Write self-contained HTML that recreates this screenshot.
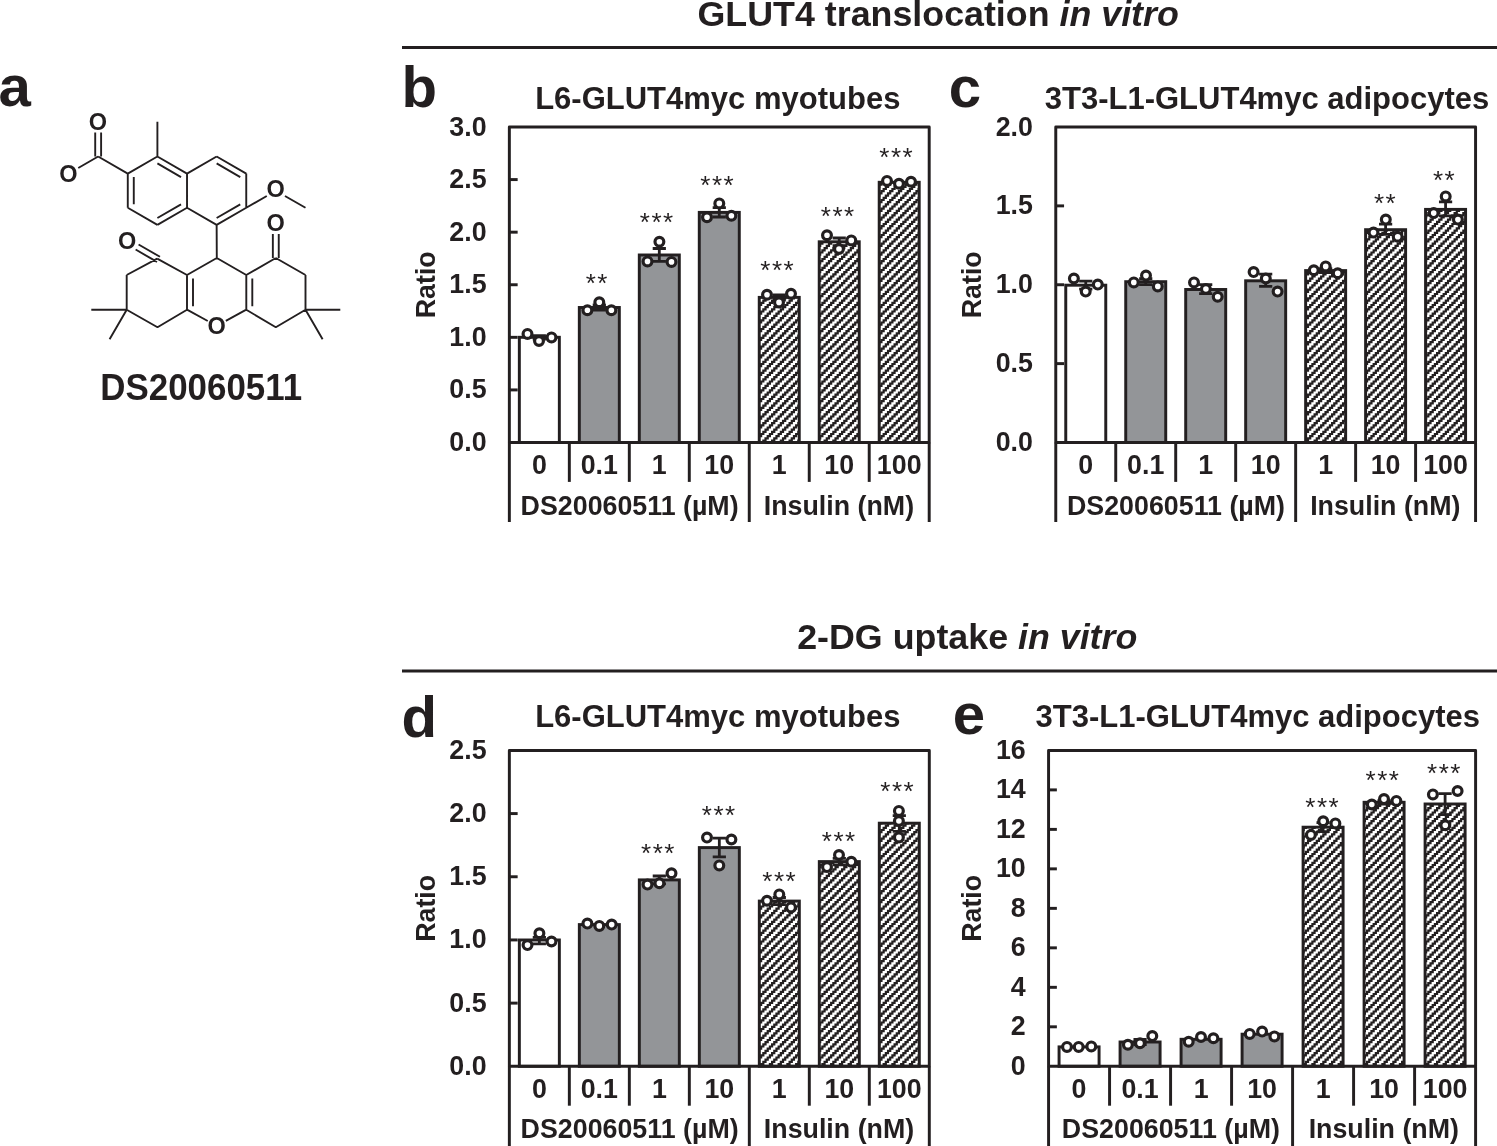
<!DOCTYPE html>
<html><head><meta charset="utf-8"><title>Figure</title>
<style>html,body{margin:0;padding:0;background:#fff}svg{display:block;will-change:transform}text{font-family:"Liberation Sans",sans-serif;fill:#231f20}.b{font-weight:bold}.i{font-style:italic}.ln{stroke:#231f20;fill:none}</style></head><body>
<svg width="1497" height="1146" viewBox="0 0 1497 1146">
<defs><pattern id="hatch" width="35" height="35" patternUnits="userSpaceOnUse" patternTransform="translate(1 2)"><rect x="0" y="0" width="35" height="35" fill="#fff"/><path fill="#231f20" d="M0 0L0 2.19L-2.19 2.19L-2.19 4.38L-4.38 4.38L-4.38 6.56L-6.56 6.56L-6.56 8.75L-8.75 8.75L-8.75 10.94L-10.94 10.94L-10.94 13.12L-13.12 13.12L-13.12 15.31L-15.31 15.31L-15.31 17.5L-17.5 17.5L-17.5 19.69L-19.69 19.69L-19.69 21.88L-21.88 21.88L-21.88 24.06L-24.06 24.06L-24.06 26.25L-26.25 26.25L-26.25 28.44L-28.44 28.44L-28.44 30.62L-30.62 30.62L-30.62 32.81L-32.81 32.81L-32.81 35L-28.44 35L-28.44 32.81L-26.25 32.81L-26.25 30.62L-24.06 30.62L-24.06 28.44L-21.88 28.44L-21.88 26.25L-19.69 26.25L-19.69 24.06L-17.5 24.06L-17.5 21.88L-15.31 21.88L-15.31 19.69L-13.12 19.69L-13.12 17.5L-10.94 17.5L-10.94 15.31L-8.75 15.31L-8.75 13.12L-6.56 13.12L-6.56 10.94L-4.38 10.94L-4.38 8.75L-2.19 8.75L-2.19 6.56L0 6.56L0 4.38L2.19 4.38L2.19 2.19L4.38 2.19L4.38 0ZM8.75 0L8.75 2.19L6.56 2.19L6.56 4.38L4.38 4.38L4.38 6.56L2.19 6.56L2.19 8.75L0 8.75L0 10.94L-2.19 10.94L-2.19 13.12L-4.38 13.12L-4.38 15.31L-6.56 15.31L-6.56 17.5L-8.75 17.5L-8.75 19.69L-10.94 19.69L-10.94 21.88L-13.12 21.88L-13.12 24.06L-15.31 24.06L-15.31 26.25L-17.5 26.25L-17.5 28.44L-19.69 28.44L-19.69 30.62L-21.88 30.62L-21.88 32.81L-24.06 32.81L-24.06 35L-19.69 35L-19.69 32.81L-17.5 32.81L-17.5 30.62L-15.31 30.62L-15.31 28.44L-13.12 28.44L-13.12 26.25L-10.94 26.25L-10.94 24.06L-8.75 24.06L-8.75 21.88L-6.56 21.88L-6.56 19.69L-4.38 19.69L-4.38 17.5L-2.19 17.5L-2.19 15.31L0 15.31L0 13.12L2.19 13.12L2.19 10.94L4.38 10.94L4.38 8.75L6.56 8.75L6.56 6.56L8.75 6.56L8.75 4.38L10.94 4.38L10.94 2.19L13.12 2.19L13.12 0ZM17.5 0L17.5 2.19L15.31 2.19L15.31 4.38L13.12 4.38L13.12 6.56L10.94 6.56L10.94 8.75L8.75 8.75L8.75 10.94L6.56 10.94L6.56 13.12L4.38 13.12L4.38 15.31L2.19 15.31L2.19 17.5L0 17.5L0 19.69L-2.19 19.69L-2.19 21.88L-4.38 21.88L-4.38 24.06L-6.56 24.06L-6.56 26.25L-8.75 26.25L-8.75 28.44L-10.94 28.44L-10.94 30.62L-13.12 30.62L-13.12 32.81L-15.31 32.81L-15.31 35L-10.94 35L-10.94 32.81L-8.75 32.81L-8.75 30.62L-6.56 30.62L-6.56 28.44L-4.38 28.44L-4.38 26.25L-2.19 26.25L-2.19 24.06L0 24.06L0 21.88L2.19 21.88L2.19 19.69L4.38 19.69L4.38 17.5L6.56 17.5L6.56 15.31L8.75 15.31L8.75 13.12L10.94 13.12L10.94 10.94L13.12 10.94L13.12 8.75L15.31 8.75L15.31 6.56L17.5 6.56L17.5 4.38L19.69 4.38L19.69 2.19L21.88 2.19L21.88 0ZM26.25 0L26.25 2.19L24.06 2.19L24.06 4.38L21.88 4.38L21.88 6.56L19.69 6.56L19.69 8.75L17.5 8.75L17.5 10.94L15.31 10.94L15.31 13.12L13.12 13.12L13.12 15.31L10.94 15.31L10.94 17.5L8.75 17.5L8.75 19.69L6.56 19.69L6.56 21.88L4.38 21.88L4.38 24.06L2.19 24.06L2.19 26.25L0 26.25L0 28.44L-2.19 28.44L-2.19 30.62L-4.38 30.62L-4.38 32.81L-6.56 32.81L-6.56 35L-2.19 35L-2.19 32.81L0 32.81L0 30.62L2.19 30.62L2.19 28.44L4.38 28.44L4.38 26.25L6.56 26.25L6.56 24.06L8.75 24.06L8.75 21.88L10.94 21.88L10.94 19.69L13.12 19.69L13.12 17.5L15.31 17.5L15.31 15.31L17.5 15.31L17.5 13.12L19.69 13.12L19.69 10.94L21.88 10.94L21.88 8.75L24.06 8.75L24.06 6.56L26.25 6.56L26.25 4.38L28.44 4.38L28.44 2.19L30.62 2.19L30.62 0ZM35 0L35 2.19L32.81 2.19L32.81 4.38L30.62 4.38L30.62 6.56L28.44 6.56L28.44 8.75L26.25 8.75L26.25 10.94L24.06 10.94L24.06 13.12L21.88 13.12L21.88 15.31L19.69 15.31L19.69 17.5L17.5 17.5L17.5 19.69L15.31 19.69L15.31 21.88L13.12 21.88L13.12 24.06L10.94 24.06L10.94 26.25L8.75 26.25L8.75 28.44L6.56 28.44L6.56 30.62L4.38 30.62L4.38 32.81L2.19 32.81L2.19 35L6.56 35L6.56 32.81L8.75 32.81L8.75 30.62L10.94 30.62L10.94 28.44L13.12 28.44L13.12 26.25L15.31 26.25L15.31 24.06L17.5 24.06L17.5 21.88L19.69 21.88L19.69 19.69L21.88 19.69L21.88 17.5L24.06 17.5L24.06 15.31L26.25 15.31L26.25 13.12L28.44 13.12L28.44 10.94L30.62 10.94L30.62 8.75L32.81 8.75L32.81 6.56L35 6.56L35 4.38L37.19 4.38L37.19 2.19L39.38 2.19L39.38 0ZM43.75 0L43.75 2.19L41.56 2.19L41.56 4.38L39.38 4.38L39.38 6.56L37.19 6.56L37.19 8.75L35 8.75L35 10.94L32.81 10.94L32.81 13.12L30.62 13.12L30.62 15.31L28.44 15.31L28.44 17.5L26.25 17.5L26.25 19.69L24.06 19.69L24.06 21.88L21.88 21.88L21.88 24.06L19.69 24.06L19.69 26.25L17.5 26.25L17.5 28.44L15.31 28.44L15.31 30.62L13.12 30.62L13.12 32.81L10.94 32.81L10.94 35L15.31 35L15.31 32.81L17.5 32.81L17.5 30.62L19.69 30.62L19.69 28.44L21.88 28.44L21.88 26.25L24.06 26.25L24.06 24.06L26.25 24.06L26.25 21.88L28.44 21.88L28.44 19.69L30.62 19.69L30.62 17.5L32.81 17.5L32.81 15.31L35 15.31L35 13.12L37.19 13.12L37.19 10.94L39.38 10.94L39.38 8.75L41.56 8.75L41.56 6.56L43.75 6.56L43.75 4.38L45.94 4.38L45.94 2.19L48.12 2.19L48.12 0ZM52.5 0L52.5 2.19L50.31 2.19L50.31 4.38L48.12 4.38L48.12 6.56L45.94 6.56L45.94 8.75L43.75 8.75L43.75 10.94L41.56 10.94L41.56 13.12L39.38 13.12L39.38 15.31L37.19 15.31L37.19 17.5L35 17.5L35 19.69L32.81 19.69L32.81 21.88L30.62 21.88L30.62 24.06L28.44 24.06L28.44 26.25L26.25 26.25L26.25 28.44L24.06 28.44L24.06 30.62L21.88 30.62L21.88 32.81L19.69 32.81L19.69 35L24.06 35L24.06 32.81L26.25 32.81L26.25 30.62L28.44 30.62L28.44 28.44L30.62 28.44L30.62 26.25L32.81 26.25L32.81 24.06L35 24.06L35 21.88L37.19 21.88L37.19 19.69L39.38 19.69L39.38 17.5L41.56 17.5L41.56 15.31L43.75 15.31L43.75 13.12L45.94 13.12L45.94 10.94L48.12 10.94L48.12 8.75L50.31 8.75L50.31 6.56L52.5 6.56L52.5 4.38L54.69 4.38L54.69 2.19L56.88 2.19L56.88 0ZM61.25 0L61.25 2.19L59.06 2.19L59.06 4.38L56.88 4.38L56.88 6.56L54.69 6.56L54.69 8.75L52.5 8.75L52.5 10.94L50.31 10.94L50.31 13.12L48.12 13.12L48.12 15.31L45.94 15.31L45.94 17.5L43.75 17.5L43.75 19.69L41.56 19.69L41.56 21.88L39.38 21.88L39.38 24.06L37.19 24.06L37.19 26.25L35 26.25L35 28.44L32.81 28.44L32.81 30.62L30.62 30.62L30.62 32.81L28.44 32.81L28.44 35L32.81 35L32.81 32.81L35 32.81L35 30.62L37.19 30.62L37.19 28.44L39.38 28.44L39.38 26.25L41.56 26.25L41.56 24.06L43.75 24.06L43.75 21.88L45.94 21.88L45.94 19.69L48.12 19.69L48.12 17.5L50.31 17.5L50.31 15.31L52.5 15.31L52.5 13.12L54.69 13.12L54.69 10.94L56.88 10.94L56.88 8.75L59.06 8.75L59.06 6.56L61.25 6.56L61.25 4.38L63.44 4.38L63.44 2.19L65.62 2.19L65.62 0Z"/></pattern></defs>
<rect x="0" y="0" width="1497" height="1146" fill="#fff"/>
<text class="b" x="697.5" y="26.1" font-size="35.8">GLUT4 translocation <tspan class="i">in vitro</tspan></text>
<line class="ln" x1="402" x2="1497" y1="47.6" y2="47.6" stroke-width="3"/>
<text class="b" x="797.2" y="649.3" font-size="35.8">2-DG uptake <tspan class="i">in vitro</tspan></text>
<line class="ln" x1="402" x2="1497" y1="671.1" y2="671.1" stroke-width="3"/>
<text class="b" x="-1.6" y="106.4" font-size="58.2">a</text>
<text class="b" x="401.4" y="106.5" font-size="58.2">b</text>
<text class="b" x="948.8" y="106.5" font-size="58.2">c</text>
<text class="b" x="401.6" y="736.7" font-size="58.2">d</text>
<text class="b" x="952.8" y="734.1" font-size="58.2">e</text>
<path class="ln" stroke-width="1.9" stroke-linecap="butt" d="M157.4 156.5L187.02 173.6M187.02 173.6L187.02 207.8M187.02 207.8L157.4 224.9M157.4 224.9L127.78 207.8M127.78 207.8L127.78 173.6M127.78 173.6L157.4 156.5M157.4 163.43L181.02 177.06M181.02 204.34L157.4 217.97M133.78 204.34L133.78 177.06M187.02 173.6L216.64 156.5M216.64 156.5L246.25 173.6M246.25 173.6L246.25 207.8M246.25 207.8L216.64 224.9M216.64 224.9L187.02 207.8M216.64 163.43L240.25 177.06M240.25 204.34L216.64 217.97M157.4 156.5L157.4 121.7M127.78 173.6L98.16 156.5M101.11 156.5L101.11 132.6M95.21 156.5L95.21 132.6M98.16 156.5L78.25 168M246.25 207.8L266.78 195.95M284.97 195.95L305.49 207.8M216.64 224.9L216.8 258M216.8 258L246.3 275M246.3 275L246.3 309.7M246.3 309.7L225.83 320.94M207.75 320.98L187 309.7M187 309.7L187 275M187 275L216.8 258M193 306.24L193 278.46M252.3 278.46L252.3 306.24M126.7 275L157.2 258.6M157.2 258.6L187 275M157.5 327.3L126.7 309.7M126.7 309.7L126.7 275M187 309.7L157.5 327.3M275.8 258L305.5 275M305.5 275L305.5 309.7M305.5 309.7L275.8 327.3M275.8 327.3L246.3 309.7M246.3 275L275.8 258M278.75 258L278.75 234.1M272.85 258L272.85 234.1M159.97 256.8L138.58 244.45M157.02 261.9L135.63 249.55M126.7 309.7L91.3 309.7M126.7 309.7L109.6 339.32M305.5 309.7L340.3 309.7M305.5 309.7L322.6 339.32"/>
<text class="b" x="97.9" y="130.3" font-size="23.5" text-anchor="middle">O</text>
<text class="b" x="68.3" y="182.2" font-size="23.5" text-anchor="middle">O</text>
<text class="b" x="275.6" y="196.6" font-size="23.5" text-anchor="middle">O</text>
<text class="b" x="216.6" y="333.7" font-size="23.5" text-anchor="middle">O</text>
<text class="b" x="275.6" y="230.9" font-size="23.5" text-anchor="middle">O</text>
<text class="b" x="127.2" y="248.7" font-size="23.5" text-anchor="middle">O</text>
<text class="b" transform="translate(201.2 399.7) scale(0.997 1.055)" font-size="35" text-anchor="middle">DS20060511</text>
<rect x="519.34" y="337.3" width="40" height="105.2" fill="#fff" stroke="#231f20" stroke-width="2.95"/>
<rect x="579.32" y="307.5" width="40" height="135" fill="#939598" stroke="#231f20" stroke-width="2.95"/>
<rect x="639.3" y="255" width="40" height="187.5" fill="#939598" stroke="#231f20" stroke-width="2.95"/>
<rect x="699.28" y="212.4" width="40" height="230.1" fill="#939598" stroke="#231f20" stroke-width="2.95"/>
<rect x="759.25" y="297.4" width="40" height="145.1" fill="url(#hatch)" stroke="#231f20" stroke-width="2.95"/>
<rect x="819.23" y="241.8" width="40" height="200.7" fill="url(#hatch)" stroke="#231f20" stroke-width="2.95"/>
<rect x="879.21" y="182.3" width="40" height="260.2" fill="url(#hatch)" stroke="#231f20" stroke-width="2.95"/>
<rect class="ln" x="509.35" y="127" width="419.85" height="315.5" stroke-width="2.95" stroke-linejoin="round"/>
<text class="b" x="486.55" y="451.05" font-size="26.8" text-anchor="end">0.0</text>
<line class="ln" x1="509.35" x2="517.65" y1="389.92" y2="389.92" stroke-width="2.95"/>
<text class="b" x="486.55" y="398.47" font-size="26.8" text-anchor="end">0.5</text>
<line class="ln" x1="509.35" x2="517.65" y1="337.33" y2="337.33" stroke-width="2.95"/>
<text class="b" x="486.55" y="345.88" font-size="26.8" text-anchor="end">1.0</text>
<line class="ln" x1="509.35" x2="517.65" y1="284.75" y2="284.75" stroke-width="2.95"/>
<text class="b" x="486.55" y="293.3" font-size="26.8" text-anchor="end">1.5</text>
<line class="ln" x1="509.35" x2="517.65" y1="232.17" y2="232.17" stroke-width="2.95"/>
<text class="b" x="486.55" y="240.72" font-size="26.8" text-anchor="end">2.0</text>
<line class="ln" x1="509.35" x2="517.65" y1="179.58" y2="179.58" stroke-width="2.95"/>
<text class="b" x="486.55" y="188.13" font-size="26.8" text-anchor="end">2.5</text>
<text class="b" x="486.55" y="135.55" font-size="26.8" text-anchor="end">3.0</text>
<path class="ln" stroke-width="2.8" d="M539.34 335.6L539.34 339.2M532.74 335.6L545.94 335.6M532.74 339.2L545.94 339.2"/>
<circle cx="527.5" cy="333.9" r="4.4" fill="#fff" stroke="#231f20" stroke-width="3.2"/>
<circle cx="539" cy="341" r="4.4" fill="#fff" stroke="#231f20" stroke-width="3.2"/>
<circle cx="551.5" cy="337.4" r="4.4" fill="#fff" stroke="#231f20" stroke-width="3.2"/>
<path class="ln" stroke-width="2.8" d="M599.32 305L599.32 310M592.72 305L605.92 305M592.72 310L605.92 310"/>
<circle cx="587.4" cy="310.3" r="4.4" fill="#fff" stroke="#231f20" stroke-width="3.2"/>
<circle cx="599.3" cy="302.2" r="4.4" fill="#fff" stroke="#231f20" stroke-width="3.2"/>
<circle cx="611.4" cy="310.3" r="4.4" fill="#fff" stroke="#231f20" stroke-width="3.2"/>
<text x="597.35" y="291.6" font-size="26" letter-spacing="1.5" text-anchor="middle">**</text>
<path class="ln" stroke-width="2.8" d="M659.3 248.5L659.3 261.4M652.7 248.5L665.9 248.5M652.7 261.4L665.9 261.4"/>
<circle cx="647.5" cy="261.4" r="4.4" fill="#fff" stroke="#231f20" stroke-width="3.2"/>
<circle cx="659.4" cy="241.8" r="4.4" fill="#fff" stroke="#231f20" stroke-width="3.2"/>
<circle cx="671.5" cy="261.9" r="4.4" fill="#fff" stroke="#231f20" stroke-width="3.2"/>
<text x="657.25" y="230.9" font-size="26" letter-spacing="1.5" text-anchor="middle">***</text>
<path class="ln" stroke-width="2.8" d="M719.28 207.6L719.28 217M712.68 207.6L725.88 207.6M712.68 217L725.88 217"/>
<circle cx="707" cy="217.2" r="4.4" fill="#fff" stroke="#231f20" stroke-width="3.2"/>
<circle cx="719.3" cy="203.4" r="4.4" fill="#fff" stroke="#231f20" stroke-width="3.2"/>
<circle cx="731.4" cy="215.8" r="4.4" fill="#fff" stroke="#231f20" stroke-width="3.2"/>
<text x="717.75" y="193.7" font-size="26" letter-spacing="1.5" text-anchor="middle">***</text>
<path class="ln" stroke-width="2.8" d="M779.25 295L779.25 300M772.65 295L785.85 295M772.65 300L785.85 300"/>
<circle cx="767" cy="294.7" r="4.4" fill="#fff" stroke="#231f20" stroke-width="3.2"/>
<circle cx="779" cy="302.4" r="4.4" fill="#fff" stroke="#231f20" stroke-width="3.2"/>
<circle cx="791" cy="293.7" r="4.4" fill="#fff" stroke="#231f20" stroke-width="3.2"/>
<text x="777.75" y="278.5" font-size="26" letter-spacing="1.5" text-anchor="middle">***</text>
<path class="ln" stroke-width="2.8" d="M839.23 238L839.23 245.6M832.63 238L845.83 238M832.63 245.6L845.83 245.6"/>
<circle cx="827" cy="235.2" r="4.4" fill="#fff" stroke="#231f20" stroke-width="3.2"/>
<circle cx="839" cy="249" r="4.4" fill="#fff" stroke="#231f20" stroke-width="3.2"/>
<circle cx="851.3" cy="240.4" r="4.4" fill="#fff" stroke="#231f20" stroke-width="3.2"/>
<text x="838.25" y="224.9" font-size="26" letter-spacing="1.5" text-anchor="middle">***</text>
<circle cx="887" cy="180.9" r="4.4" fill="#fff" stroke="#231f20" stroke-width="3.2"/>
<circle cx="899" cy="183.7" r="4.4" fill="#fff" stroke="#231f20" stroke-width="3.2"/>
<circle cx="911" cy="181.8" r="4.4" fill="#fff" stroke="#231f20" stroke-width="3.2"/>
<text x="896.75" y="166.4" font-size="26" letter-spacing="1.5" text-anchor="middle">***</text>
<text class="b" x="717.8" y="109.3" font-size="31" text-anchor="middle">L6-GLUT4myc myotubes</text>
<text class="b" transform="translate(434.9 284.75) rotate(-90)" font-size="26.8" text-anchor="middle">Ratio</text>
<line class="ln" x1="509.35" x2="509.35" y1="442.5" y2="522" stroke-width="2.95"/>
<line class="ln" x1="569.33" x2="569.33" y1="442.5" y2="481.9" stroke-width="2.95"/>
<line class="ln" x1="629.31" x2="629.31" y1="442.5" y2="481.9" stroke-width="2.95"/>
<line class="ln" x1="689.29" x2="689.29" y1="442.5" y2="481.9" stroke-width="2.95"/>
<line class="ln" x1="749.26" x2="749.26" y1="442.5" y2="522" stroke-width="2.95"/>
<line class="ln" x1="809.24" x2="809.24" y1="442.5" y2="481.9" stroke-width="2.95"/>
<line class="ln" x1="869.22" x2="869.22" y1="442.5" y2="481.9" stroke-width="2.95"/>
<line class="ln" x1="929.2" x2="929.2" y1="442.5" y2="522" stroke-width="2.95"/>
<text class="b" x="539.34" y="474.3" font-size="26.8" text-anchor="middle">0</text>
<text class="b" x="599.32" y="474.3" font-size="26.8" text-anchor="middle">0.1</text>
<text class="b" x="659.3" y="474.3" font-size="26.8" text-anchor="middle">1</text>
<text class="b" x="719.28" y="474.3" font-size="26.8" text-anchor="middle">10</text>
<text class="b" x="779.25" y="474.3" font-size="26.8" text-anchor="middle">1</text>
<text class="b" x="839.23" y="474.3" font-size="26.8" text-anchor="middle">10</text>
<text class="b" x="899.21" y="474.3" font-size="26.8" text-anchor="middle">100</text>
<text class="b" x="629.61" y="514.5" font-size="26.8" text-anchor="middle">DS20060511 (µM)</text>
<text class="b" x="838.93" y="514.5" font-size="26.8" text-anchor="middle">Insulin (nM)</text>
<rect x="1065.76" y="285.2" width="40" height="157.3" fill="#fff" stroke="#231f20" stroke-width="2.95"/>
<rect x="1125.73" y="281.7" width="40" height="160.8" fill="#939598" stroke="#231f20" stroke-width="2.95"/>
<rect x="1185.7" y="289.5" width="40" height="153" fill="#939598" stroke="#231f20" stroke-width="2.95"/>
<rect x="1245.67" y="280.8" width="40" height="161.7" fill="#939598" stroke="#231f20" stroke-width="2.95"/>
<rect x="1305.64" y="270.6" width="40" height="171.9" fill="url(#hatch)" stroke="#231f20" stroke-width="2.95"/>
<rect x="1365.61" y="229.7" width="40" height="212.8" fill="url(#hatch)" stroke="#231f20" stroke-width="2.95"/>
<rect x="1425.58" y="209.4" width="40" height="233.1" fill="url(#hatch)" stroke="#231f20" stroke-width="2.95"/>
<rect class="ln" x="1055.77" y="127" width="419.8" height="315.5" stroke-width="2.95" stroke-linejoin="round"/>
<text class="b" x="1032.97" y="451.05" font-size="26.8" text-anchor="end">0.0</text>
<line class="ln" x1="1055.77" x2="1064.07" y1="363.62" y2="363.62" stroke-width="2.95"/>
<text class="b" x="1032.97" y="372.18" font-size="26.8" text-anchor="end">0.5</text>
<line class="ln" x1="1055.77" x2="1064.07" y1="284.75" y2="284.75" stroke-width="2.95"/>
<text class="b" x="1032.97" y="293.3" font-size="26.8" text-anchor="end">1.0</text>
<line class="ln" x1="1055.77" x2="1064.07" y1="205.88" y2="205.88" stroke-width="2.95"/>
<text class="b" x="1032.97" y="214.43" font-size="26.8" text-anchor="end">1.5</text>
<text class="b" x="1032.97" y="135.55" font-size="26.8" text-anchor="end">2.0</text>
<path class="ln" stroke-width="2.8" d="M1085.76 281.2L1085.76 289.2M1079.16 281.2L1092.36 281.2M1079.16 289.2L1092.36 289.2"/>
<circle cx="1073.9" cy="278.5" r="4.4" fill="#fff" stroke="#231f20" stroke-width="3.2"/>
<circle cx="1085.7" cy="291.6" r="4.4" fill="#fff" stroke="#231f20" stroke-width="3.2"/>
<circle cx="1097.8" cy="284.6" r="4.4" fill="#fff" stroke="#231f20" stroke-width="3.2"/>
<path class="ln" stroke-width="2.8" d="M1145.73 278.7L1145.73 284.7M1139.13 278.7L1152.33 278.7M1139.13 284.7L1152.33 284.7"/>
<circle cx="1133.8" cy="282.4" r="4.4" fill="#fff" stroke="#231f20" stroke-width="3.2"/>
<circle cx="1146" cy="275.6" r="4.4" fill="#fff" stroke="#231f20" stroke-width="3.2"/>
<circle cx="1157.8" cy="286.4" r="4.4" fill="#fff" stroke="#231f20" stroke-width="3.2"/>
<path class="ln" stroke-width="2.8" d="M1205.7 284.6L1205.7 293.7M1199.1 284.6L1212.3 284.6M1199.1 293.7L1212.3 293.7"/>
<circle cx="1194" cy="282.4" r="4.4" fill="#fff" stroke="#231f20" stroke-width="3.2"/>
<circle cx="1205.9" cy="289" r="4.4" fill="#fff" stroke="#231f20" stroke-width="3.2"/>
<circle cx="1217.7" cy="296.8" r="4.4" fill="#fff" stroke="#231f20" stroke-width="3.2"/>
<path class="ln" stroke-width="2.8" d="M1265.67 274.2L1265.67 286.4M1259.07 274.2L1272.27 274.2M1259.07 286.4L1272.27 286.4"/>
<circle cx="1253.6" cy="272.1" r="4.4" fill="#fff" stroke="#231f20" stroke-width="3.2"/>
<circle cx="1265.8" cy="278.5" r="4.4" fill="#fff" stroke="#231f20" stroke-width="3.2"/>
<circle cx="1277.6" cy="291.6" r="4.4" fill="#fff" stroke="#231f20" stroke-width="3.2"/>
<path class="ln" stroke-width="2.8" d="M1325.64 268.6L1325.64 272.6M1319.04 268.6L1332.24 268.6M1319.04 272.6L1332.24 272.6"/>
<circle cx="1313.8" cy="270.3" r="4.4" fill="#fff" stroke="#231f20" stroke-width="3.2"/>
<circle cx="1325.7" cy="266.4" r="4.4" fill="#fff" stroke="#231f20" stroke-width="3.2"/>
<circle cx="1337.7" cy="273.2" r="4.4" fill="#fff" stroke="#231f20" stroke-width="3.2"/>
<path class="ln" stroke-width="2.8" d="M1385.61 224.2L1385.61 234.4M1379.01 224.2L1392.21 224.2M1379.01 234.4L1392.21 234.4"/>
<circle cx="1373.5" cy="232.6" r="4.4" fill="#fff" stroke="#231f20" stroke-width="3.2"/>
<circle cx="1385.8" cy="219.6" r="4.4" fill="#fff" stroke="#231f20" stroke-width="3.2"/>
<circle cx="1397.7" cy="236.7" r="4.4" fill="#fff" stroke="#231f20" stroke-width="3.2"/>
<text x="1385.55" y="212.2" font-size="26" letter-spacing="1.5" text-anchor="middle">**</text>
<path class="ln" stroke-width="2.8" d="M1445.58 201.9L1445.58 215.8M1438.98 201.9L1452.18 201.9M1438.98 215.8L1452.18 215.8"/>
<circle cx="1433.7" cy="213.1" r="4.4" fill="#fff" stroke="#231f20" stroke-width="3.2"/>
<circle cx="1445.7" cy="196.4" r="4.4" fill="#fff" stroke="#231f20" stroke-width="3.2"/>
<circle cx="1457.9" cy="219.6" r="4.4" fill="#fff" stroke="#231f20" stroke-width="3.2"/>
<text x="1444.55" y="188.6" font-size="26" letter-spacing="1.5" text-anchor="middle">**</text>
<text class="b" x="1267" y="109.3" font-size="31" text-anchor="middle">3T3-L1-GLUT4myc adipocytes</text>
<text class="b" transform="translate(981.1 284.75) rotate(-90)" font-size="26.8" text-anchor="middle">Ratio</text>
<line class="ln" x1="1055.77" x2="1055.77" y1="442.5" y2="522" stroke-width="2.95"/>
<line class="ln" x1="1115.74" x2="1115.74" y1="442.5" y2="481.9" stroke-width="2.95"/>
<line class="ln" x1="1175.71" x2="1175.71" y1="442.5" y2="481.9" stroke-width="2.95"/>
<line class="ln" x1="1235.68" x2="1235.68" y1="442.5" y2="481.9" stroke-width="2.95"/>
<line class="ln" x1="1295.66" x2="1295.66" y1="442.5" y2="522" stroke-width="2.95"/>
<line class="ln" x1="1355.63" x2="1355.63" y1="442.5" y2="481.9" stroke-width="2.95"/>
<line class="ln" x1="1415.6" x2="1415.6" y1="442.5" y2="481.9" stroke-width="2.95"/>
<line class="ln" x1="1475.57" x2="1475.57" y1="442.5" y2="522" stroke-width="2.95"/>
<text class="b" x="1085.76" y="474.3" font-size="26.8" text-anchor="middle">0</text>
<text class="b" x="1145.73" y="474.3" font-size="26.8" text-anchor="middle">0.1</text>
<text class="b" x="1205.7" y="474.3" font-size="26.8" text-anchor="middle">1</text>
<text class="b" x="1265.67" y="474.3" font-size="26.8" text-anchor="middle">10</text>
<text class="b" x="1325.64" y="474.3" font-size="26.8" text-anchor="middle">1</text>
<text class="b" x="1385.61" y="474.3" font-size="26.8" text-anchor="middle">10</text>
<text class="b" x="1445.58" y="474.3" font-size="26.8" text-anchor="middle">100</text>
<text class="b" x="1176.01" y="514.5" font-size="26.8" text-anchor="middle">DS20060511 (µM)</text>
<text class="b" x="1385.31" y="514.5" font-size="26.8" text-anchor="middle">Insulin (nM)</text>
<rect x="519.35" y="940" width="40" height="126.3" fill="#fff" stroke="#231f20" stroke-width="2.95"/>
<rect x="579.34" y="924.6" width="40" height="141.7" fill="#939598" stroke="#231f20" stroke-width="2.95"/>
<rect x="639.33" y="879.9" width="40" height="186.4" fill="#939598" stroke="#231f20" stroke-width="2.95"/>
<rect x="699.33" y="847.6" width="40" height="218.7" fill="#939598" stroke="#231f20" stroke-width="2.95"/>
<rect x="759.32" y="901.1" width="40" height="165.2" fill="url(#hatch)" stroke="#231f20" stroke-width="2.95"/>
<rect x="819.31" y="861.6" width="40" height="204.7" fill="url(#hatch)" stroke="#231f20" stroke-width="2.95"/>
<rect x="879.3" y="823.2" width="40" height="243.1" fill="url(#hatch)" stroke="#231f20" stroke-width="2.95"/>
<rect class="ln" x="509.35" y="750.4" width="419.95" height="315.9" stroke-width="2.95" stroke-linejoin="round"/>
<text class="b" x="486.55" y="1074.85" font-size="26.8" text-anchor="end">0.0</text>
<line class="ln" x1="509.35" x2="517.65" y1="1003.12" y2="1003.12" stroke-width="2.95"/>
<text class="b" x="486.55" y="1011.67" font-size="26.8" text-anchor="end">0.5</text>
<line class="ln" x1="509.35" x2="517.65" y1="939.94" y2="939.94" stroke-width="2.95"/>
<text class="b" x="486.55" y="948.49" font-size="26.8" text-anchor="end">1.0</text>
<line class="ln" x1="509.35" x2="517.65" y1="876.76" y2="876.76" stroke-width="2.95"/>
<text class="b" x="486.55" y="885.31" font-size="26.8" text-anchor="end">1.5</text>
<line class="ln" x1="509.35" x2="517.65" y1="813.58" y2="813.58" stroke-width="2.95"/>
<text class="b" x="486.55" y="822.13" font-size="26.8" text-anchor="end">2.0</text>
<text class="b" x="486.55" y="758.95" font-size="26.8" text-anchor="end">2.5</text>
<path class="ln" stroke-width="2.8" d="M539.35 937.4L539.35 943.8M532.75 937.4L545.95 937.4M532.75 943.8L545.95 943.8"/>
<circle cx="527.5" cy="945.1" r="4.4" fill="#fff" stroke="#231f20" stroke-width="3.2"/>
<circle cx="539.4" cy="933.2" r="4.4" fill="#fff" stroke="#231f20" stroke-width="3.2"/>
<circle cx="551.5" cy="941.5" r="4.4" fill="#fff" stroke="#231f20" stroke-width="3.2"/>
<circle cx="587.4" cy="923.6" r="4.4" fill="#fff" stroke="#231f20" stroke-width="3.2"/>
<circle cx="599.3" cy="925.9" r="4.4" fill="#fff" stroke="#231f20" stroke-width="3.2"/>
<circle cx="611.7" cy="924.6" r="4.4" fill="#fff" stroke="#231f20" stroke-width="3.2"/>
<path class="ln" stroke-width="2.8" d="M659.33 876L659.33 883.8M652.73 876L665.93 876M652.73 883.8L665.93 883.8"/>
<circle cx="647.5" cy="884.6" r="4.4" fill="#fff" stroke="#231f20" stroke-width="3.2"/>
<circle cx="659.4" cy="883.3" r="4.4" fill="#fff" stroke="#231f20" stroke-width="3.2"/>
<circle cx="671.5" cy="873.3" r="4.4" fill="#fff" stroke="#231f20" stroke-width="3.2"/>
<text x="658.55" y="862.4" font-size="26" letter-spacing="1.5" text-anchor="middle">***</text>
<path class="ln" stroke-width="2.8" d="M719.33 838.2L719.33 856.8M712.73 838.2L725.93 838.2M712.73 856.8L725.93 856.8"/>
<circle cx="707" cy="837.6" r="4.4" fill="#fff" stroke="#231f20" stroke-width="3.2"/>
<circle cx="719.3" cy="865.4" r="4.4" fill="#fff" stroke="#231f20" stroke-width="3.2"/>
<circle cx="731.4" cy="839.5" r="4.4" fill="#fff" stroke="#231f20" stroke-width="3.2"/>
<text x="719.25" y="824.4" font-size="26" letter-spacing="1.5" text-anchor="middle">***</text>
<path class="ln" stroke-width="2.8" d="M779.32 897.5L779.32 904.7M772.72 897.5L785.92 897.5M772.72 904.7L785.92 904.7"/>
<circle cx="767" cy="900.7" r="4.4" fill="#fff" stroke="#231f20" stroke-width="3.2"/>
<circle cx="779.3" cy="894.4" r="4.4" fill="#fff" stroke="#231f20" stroke-width="3.2"/>
<circle cx="791" cy="907.4" r="4.4" fill="#fff" stroke="#231f20" stroke-width="3.2"/>
<text x="779.75" y="889.8" font-size="26" letter-spacing="1.5" text-anchor="middle">***</text>
<path class="ln" stroke-width="2.8" d="M839.31 858.4L839.31 864.8M832.71 858.4L845.91 858.4M832.71 864.8L845.91 864.8"/>
<circle cx="827" cy="867.1" r="4.4" fill="#fff" stroke="#231f20" stroke-width="3.2"/>
<circle cx="839" cy="855" r="4.4" fill="#fff" stroke="#231f20" stroke-width="3.2"/>
<circle cx="851.3" cy="861.7" r="4.4" fill="#fff" stroke="#231f20" stroke-width="3.2"/>
<text x="839.25" y="850.1" font-size="26" letter-spacing="1.5" text-anchor="middle">***</text>
<path class="ln" stroke-width="2.8" d="M899.3 815.7L899.3 831.4M892.7 815.7L905.9 815.7M892.7 831.4L905.9 831.4"/>
<circle cx="898.9" cy="810.9" r="4.4" fill="#fff" stroke="#231f20" stroke-width="3.2"/>
<circle cx="898.9" cy="821" r="4.4" fill="#fff" stroke="#231f20" stroke-width="3.2"/>
<circle cx="898.9" cy="837.4" r="4.4" fill="#fff" stroke="#231f20" stroke-width="3.2"/>
<text x="897.75" y="800.2" font-size="26" letter-spacing="1.5" text-anchor="middle">***</text>
<text class="b" x="717.8" y="727.3" font-size="31" text-anchor="middle">L6-GLUT4myc myotubes</text>
<text class="b" transform="translate(434.9 908.35) rotate(-90)" font-size="26.8" text-anchor="middle">Ratio</text>
<line class="ln" x1="509.35" x2="509.35" y1="1066.3" y2="1150" stroke-width="2.95"/>
<line class="ln" x1="569.34" x2="569.34" y1="1066.3" y2="1105.7" stroke-width="2.95"/>
<line class="ln" x1="629.34" x2="629.34" y1="1066.3" y2="1105.7" stroke-width="2.95"/>
<line class="ln" x1="689.33" x2="689.33" y1="1066.3" y2="1105.7" stroke-width="2.95"/>
<line class="ln" x1="749.32" x2="749.32" y1="1066.3" y2="1150" stroke-width="2.95"/>
<line class="ln" x1="809.31" x2="809.31" y1="1066.3" y2="1105.7" stroke-width="2.95"/>
<line class="ln" x1="869.31" x2="869.31" y1="1066.3" y2="1105.7" stroke-width="2.95"/>
<line class="ln" x1="929.3" x2="929.3" y1="1066.3" y2="1150" stroke-width="2.95"/>
<text class="b" x="539.35" y="1098.1" font-size="26.8" text-anchor="middle">0</text>
<text class="b" x="599.34" y="1098.1" font-size="26.8" text-anchor="middle">0.1</text>
<text class="b" x="659.33" y="1098.1" font-size="26.8" text-anchor="middle">1</text>
<text class="b" x="719.33" y="1098.1" font-size="26.8" text-anchor="middle">10</text>
<text class="b" x="779.32" y="1098.1" font-size="26.8" text-anchor="middle">1</text>
<text class="b" x="839.31" y="1098.1" font-size="26.8" text-anchor="middle">10</text>
<text class="b" x="899.3" y="1098.1" font-size="26.8" text-anchor="middle">100</text>
<text class="b" x="629.64" y="1138.3" font-size="26.8" text-anchor="middle">DS20060511 (µM)</text>
<text class="b" x="839.01" y="1138.3" font-size="26.8" text-anchor="middle">Insulin (nM)</text>
<rect x="1059.07" y="1046.9" width="40" height="19.4" fill="#fff" stroke="#231f20" stroke-width="2.95"/>
<rect x="1120.08" y="1042" width="40" height="24.3" fill="#939598" stroke="#231f20" stroke-width="2.95"/>
<rect x="1181.08" y="1039.3" width="40" height="27" fill="#939598" stroke="#231f20" stroke-width="2.95"/>
<rect x="1242.09" y="1034.2" width="40" height="32.1" fill="#939598" stroke="#231f20" stroke-width="2.95"/>
<rect x="1303.09" y="827.2" width="40" height="239.1" fill="url(#hatch)" stroke="#231f20" stroke-width="2.95"/>
<rect x="1364.09" y="802.3" width="40" height="264" fill="url(#hatch)" stroke="#231f20" stroke-width="2.95"/>
<rect x="1425.1" y="804" width="40" height="262.3" fill="url(#hatch)" stroke="#231f20" stroke-width="2.95"/>
<rect class="ln" x="1048.57" y="750.4" width="427.03" height="315.9" stroke-width="2.95" stroke-linejoin="round"/>
<text class="b" x="1025.77" y="1074.85" font-size="26.8" text-anchor="end">0</text>
<line class="ln" x1="1048.57" x2="1056.87" y1="1026.81" y2="1026.81" stroke-width="2.95"/>
<text class="b" x="1025.77" y="1035.36" font-size="26.8" text-anchor="end">2</text>
<line class="ln" x1="1048.57" x2="1056.87" y1="987.32" y2="987.32" stroke-width="2.95"/>
<text class="b" x="1025.77" y="995.87" font-size="26.8" text-anchor="end">4</text>
<line class="ln" x1="1048.57" x2="1056.87" y1="947.84" y2="947.84" stroke-width="2.95"/>
<text class="b" x="1025.77" y="956.39" font-size="26.8" text-anchor="end">6</text>
<line class="ln" x1="1048.57" x2="1056.87" y1="908.35" y2="908.35" stroke-width="2.95"/>
<text class="b" x="1025.77" y="916.9" font-size="26.8" text-anchor="end">8</text>
<line class="ln" x1="1048.57" x2="1056.87" y1="868.86" y2="868.86" stroke-width="2.95"/>
<text class="b" x="1025.77" y="877.41" font-size="26.8" text-anchor="end">10</text>
<line class="ln" x1="1048.57" x2="1056.87" y1="829.38" y2="829.38" stroke-width="2.95"/>
<text class="b" x="1025.77" y="837.92" font-size="26.8" text-anchor="end">12</text>
<line class="ln" x1="1048.57" x2="1056.87" y1="789.89" y2="789.89" stroke-width="2.95"/>
<text class="b" x="1025.77" y="798.44" font-size="26.8" text-anchor="end">14</text>
<text class="b" x="1025.77" y="758.95" font-size="26.8" text-anchor="end">16</text>
<circle cx="1067" cy="1046.9" r="4.4" fill="#fff" stroke="#231f20" stroke-width="3.2"/>
<circle cx="1078.7" cy="1046.9" r="4.4" fill="#fff" stroke="#231f20" stroke-width="3.2"/>
<circle cx="1091.3" cy="1046.4" r="4.4" fill="#fff" stroke="#231f20" stroke-width="3.2"/>
<path class="ln" stroke-width="2.8" d="M1140.08 1039.5L1140.08 1044.5M1133.48 1039.5L1146.68 1039.5M1133.48 1044.5L1146.68 1044.5"/>
<circle cx="1127.9" cy="1044.7" r="4.4" fill="#fff" stroke="#231f20" stroke-width="3.2"/>
<circle cx="1140" cy="1043.3" r="4.4" fill="#fff" stroke="#231f20" stroke-width="3.2"/>
<circle cx="1152.3" cy="1036.1" r="4.4" fill="#fff" stroke="#231f20" stroke-width="3.2"/>
<circle cx="1188.7" cy="1041.8" r="4.4" fill="#fff" stroke="#231f20" stroke-width="3.2"/>
<circle cx="1201" cy="1037" r="4.4" fill="#fff" stroke="#231f20" stroke-width="3.2"/>
<circle cx="1213.4" cy="1038.2" r="4.4" fill="#fff" stroke="#231f20" stroke-width="3.2"/>
<circle cx="1249.7" cy="1033.9" r="4.4" fill="#fff" stroke="#231f20" stroke-width="3.2"/>
<circle cx="1262.1" cy="1031.6" r="4.4" fill="#fff" stroke="#231f20" stroke-width="3.2"/>
<circle cx="1274.4" cy="1036.4" r="4.4" fill="#fff" stroke="#231f20" stroke-width="3.2"/>
<path class="ln" stroke-width="2.8" d="M1323.09 822.7L1323.09 831.7M1316.49 822.7L1329.69 822.7M1316.49 831.7L1329.69 831.7"/>
<circle cx="1310.9" cy="834.9" r="4.4" fill="#fff" stroke="#231f20" stroke-width="3.2"/>
<circle cx="1323.2" cy="821.2" r="4.4" fill="#fff" stroke="#231f20" stroke-width="3.2"/>
<circle cx="1335.4" cy="823.4" r="4.4" fill="#fff" stroke="#231f20" stroke-width="3.2"/>
<text x="1322.75" y="815.6" font-size="26" letter-spacing="1.5" text-anchor="middle">***</text>
<path class="ln" stroke-width="2.8" d="M1384.09 800.6L1384.09 804M1377.49 800.6L1390.69 800.6M1377.49 804L1390.69 804"/>
<circle cx="1371.8" cy="804.5" r="4.4" fill="#fff" stroke="#231f20" stroke-width="3.2"/>
<circle cx="1384" cy="799.1" r="4.4" fill="#fff" stroke="#231f20" stroke-width="3.2"/>
<circle cx="1396.4" cy="800.9" r="4.4" fill="#fff" stroke="#231f20" stroke-width="3.2"/>
<text x="1382.95" y="789.2" font-size="26" letter-spacing="1.5" text-anchor="middle">***</text>
<path class="ln" stroke-width="2.8" d="M1445.1 793.6L1445.1 814.7M1438.5 793.6L1451.7 793.6M1438.5 814.7L1451.7 814.7"/>
<circle cx="1432.9" cy="794.4" r="4.4" fill="#fff" stroke="#231f20" stroke-width="3.2"/>
<circle cx="1445.3" cy="825.2" r="4.4" fill="#fff" stroke="#231f20" stroke-width="3.2"/>
<circle cx="1457.6" cy="791" r="4.4" fill="#fff" stroke="#231f20" stroke-width="3.2"/>
<text x="1444.55" y="782.2" font-size="26" letter-spacing="1.5" text-anchor="middle">***</text>
<text class="b" x="1257.8" y="727.3" font-size="31" text-anchor="middle">3T3-L1-GLUT4myc adipocytes</text>
<text class="b" transform="translate(981.1 908.35) rotate(-90)" font-size="26.8" text-anchor="middle">Ratio</text>
<line class="ln" x1="1048.57" x2="1048.57" y1="1066.3" y2="1150" stroke-width="2.95"/>
<line class="ln" x1="1109.57" x2="1109.57" y1="1066.3" y2="1105.7" stroke-width="2.95"/>
<line class="ln" x1="1170.58" x2="1170.58" y1="1066.3" y2="1105.7" stroke-width="2.95"/>
<line class="ln" x1="1231.58" x2="1231.58" y1="1066.3" y2="1105.7" stroke-width="2.95"/>
<line class="ln" x1="1292.59" x2="1292.59" y1="1066.3" y2="1150" stroke-width="2.95"/>
<line class="ln" x1="1353.59" x2="1353.59" y1="1066.3" y2="1105.7" stroke-width="2.95"/>
<line class="ln" x1="1414.6" x2="1414.6" y1="1066.3" y2="1105.7" stroke-width="2.95"/>
<line class="ln" x1="1475.6" x2="1475.6" y1="1066.3" y2="1150" stroke-width="2.95"/>
<text class="b" x="1079.07" y="1098.1" font-size="26.8" text-anchor="middle">0</text>
<text class="b" x="1140.08" y="1098.1" font-size="26.8" text-anchor="middle">0.1</text>
<text class="b" x="1201.08" y="1098.1" font-size="26.8" text-anchor="middle">1</text>
<text class="b" x="1262.09" y="1098.1" font-size="26.8" text-anchor="middle">10</text>
<text class="b" x="1323.09" y="1098.1" font-size="26.8" text-anchor="middle">1</text>
<text class="b" x="1384.09" y="1098.1" font-size="26.8" text-anchor="middle">10</text>
<text class="b" x="1445.1" y="1098.1" font-size="26.8" text-anchor="middle">100</text>
<text class="b" x="1170.88" y="1138.3" font-size="26.8" text-anchor="middle">DS20060511 (µM)</text>
<text class="b" x="1383.79" y="1138.3" font-size="26.8" text-anchor="middle">Insulin (nM)</text>
</svg></body></html>
